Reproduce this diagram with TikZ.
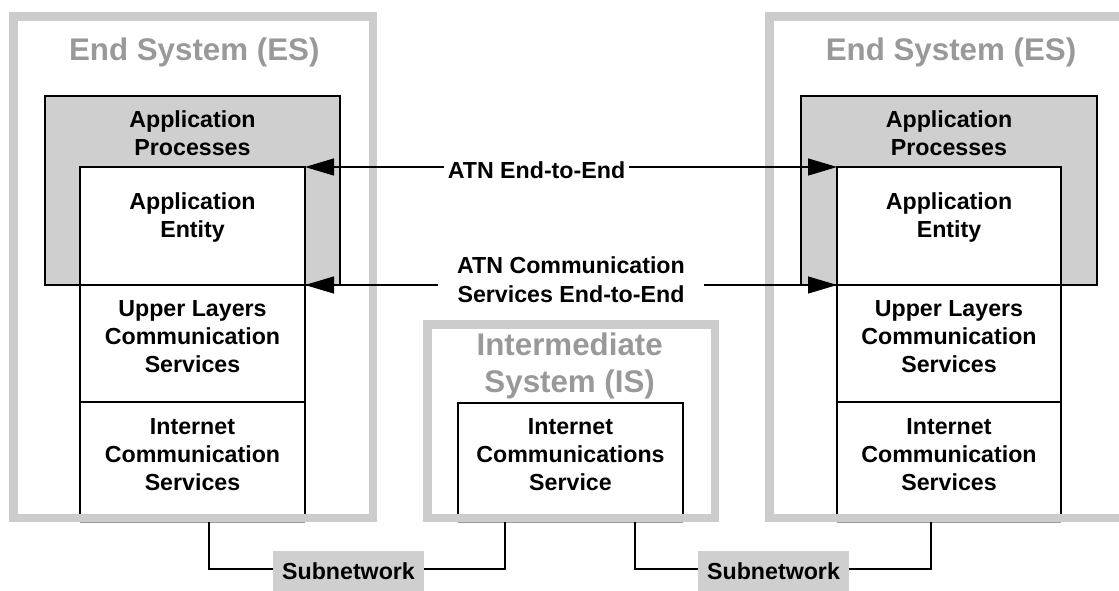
\documentclass[tikz,border=0pt]{standalone}
\usepackage{fontspec}
\setmainfont{Liberation Sans}
\usetikzlibrary{arrows.meta}
\definecolor{framegray}{HTML}{CCCCCC}
\definecolor{titlegray}{HTML}{999999}
\definecolor{boxgray}{HTML}{CFCFCF}
\definecolor{edgegray}{HTML}{9A9A9A}
\tikzset{
  esframe/.style={draw=framegray, line width=8.5pt, inner sep=0pt, outer sep=0pt},
  procbox/.style={draw=black, fill=boxgray, line width=1.2pt, inner sep=0pt, outer sep=0pt},
  layerbox/.style={draw=black, line width=1.2pt, inner sep=0pt, outer sep=0pt, minimum width=225pt},
  layerside/.style={inner sep=0pt, outer sep=0pt, minimum width=225pt},
  txt/.style={font=\bfseries\fontsize{23.2}{28}\selectfont, align=center, inner sep=0pt},
  systitle/.style={font=\bfseries\fontsize{31.3}{37}\selectfont, text=titlegray, align=center, inner sep=0pt},
  subnet/.style={fill=boxgray, inner sep=0pt, outer sep=0pt, minimum width=151pt, minimum height=41pt},
  conn/.style={draw=black, line width=1.2pt},
  e2e/.style={draw=black, line width=1.2pt, {Triangle[length=29pt,width=17pt]}-{Triangle[length=29pt,width=17pt]}},
  e2elabel/.style={txt, fill=white, inner ysep=2pt},
}
\begin{document}
\begin{tikzpicture}[x=1pt,y=-1pt]
\path[use as bounding box] (0,0) rectangle (1119,590);
\clip (0,0) rectangle (1119,590);

% system frames
\node[esframe, minimum width=359.5pt, minimum height=501.5pt] (esL) at (193,267) {};
\node[esframe, minimum width=359.5pt, minimum height=501.5pt] (esR) at (949,267) {};
\node[esframe, minimum width=287.5pt, minimum height=193.5pt] (isF) at (571,421) {};

% titles
\node[systitle] (tEsL) at (194.3,52) {End System (ES)};
\node[systitle] (tEsR) at (951,52) {End System (ES)};
\node[systitle] (tIs) at (569.7,365.4) {Intermediate\\System (IS)};

% application processes
\node[procbox, minimum width=295pt, minimum height=189pt] (apL) at (192.5,190.5) {};
\node[procbox, minimum width=296pt, minimum height=189pt] (apR) at (949,190.5) {};

% left column
\node[layerbox, fill=white, minimum height=118pt] (aeL) at (192.5,226) {};
\node[layerbox, minimum height=117pt] (ulL) at (192.5,343.5) {};
\node[layerside, minimum height=120pt] (icL) at (192.5,462) {};

% right column
\node[layerbox, fill=white, minimum width=224pt, minimum height=118pt] (aeR) at (949,226) {};
\node[layerbox, minimum width=224pt, minimum height=117pt] (ulR) at (949,343.5) {};
\node[layerside, minimum width=224pt, minimum height=120pt] (icR) at (949,462) {};

% IS box
\node[layerside, minimum height=119pt] (icIS) at (570.5,462.5) {};

\foreach \n in {icL,icR,icIS}{
  \draw[conn] ([yshift=8pt]\n.south west) -- (\n.north west) -- (\n.north east) -- ([yshift=8pt]\n.south east);
  \draw[edgegray, line width=0.8pt] (\n.south west) -- (\n.south east);
}

% texts
\node[txt] (tApL) at (192.5,133.2) {Application\\Processes};
\node[txt] (tAeL) at (192.5,217.6) {Application\\Entity};
\node[txt] (tUlL) at (192.5,336.2) {Upper Layers\\Communication\\Services};
\node[txt] (tIcL) at (192.5,454.2) {Internet\\Communication\\Services};
\node[txt] (tApR) at (949,133.2) {Application\\Processes};
\node[txt] (tAeR) at (949,217.6) {Application\\Entity};
\node[txt] (tUlR) at (949,336.2) {Upper Layers\\Communication\\Services};
\node[txt] (tIcR) at (949,454.2) {Internet\\Communication\\Services};
\node[txt] (tIcIS) at (570.5,454.2) {Internet\\Communications\\Service};

% end-to-end arrows
\draw[e2e] (aeL.north east) -- (aeR.north west);
\draw[e2e] (aeL.south east) -- (aeR.south west);
\node[e2elabel, inner xsep=3.5pt] (lab1) at (536.5,170.7) {ATN End-to-End};
\node[e2elabel, inner xsep=19.5pt, font=\bfseries\fontsize{23.2}{29}\selectfont] (lab2) at (571,280.2) {ATN Communication\\Services End-to-End};

% subnetworks
\node[txt, subnet] (subA) at (348.5,571.5) {Subnetwork};
\node[txt, subnet] (subB) at (773.5,571.5) {Subnetwork};
\draw[conn] ([xshift=16.5pt]icL.south) |- ([yshift=2.5pt]subA.west);
\draw[conn] ([yshift=2.5pt]subA.east) -| ([xshift=-65.5pt]icIS.south);
\draw[conn] ([xshift=64.5pt]icIS.south) |- ([yshift=2.5pt]subB.west);
\draw[conn] ([yshift=2.5pt]subB.east) -| ([xshift=-18pt]icR.south);
\end{tikzpicture}
\end{document}
